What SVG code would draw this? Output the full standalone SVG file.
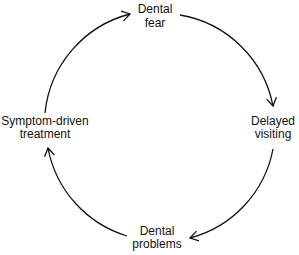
<svg xmlns="http://www.w3.org/2000/svg" width="299" height="255" viewBox="0 0 299 255">
<style>
.t{font-family:"Liberation Sans",Arial,sans-serif;font-size:12px;fill:#111;text-anchor:middle}
.c{fill:none;stroke:#111;stroke-width:1.3}
</style>
<defs>
<marker id="ah" markerWidth="14" markerHeight="14" refX="0" refY="0" viewBox="-10 -7 14 14" orient="auto" markerUnits="userSpaceOnUse">
<path d="M-8,-5 L0,0 L-8,5" fill="none" stroke="#111" stroke-width="1.3"/>
</marker>
</defs>
<rect width="299" height="255" fill="#fff"/>
<g id="connectors">
<path class="c" d="M45,113 A114,114 0 0 1 130,14" marker-end="url(#ah)"/>
<path class="c" d="M180,15 A114,114 0 0 1 273,106" marker-end="url(#ah)"/>
<path class="c" d="M273,149 A114,114 0 0 1 190,238" marker-end="url(#ah)"/>
<path class="c" d="M127,236 A114,114 0 0 1 48,148" marker-end="url(#ah)"/>
</g>
<g id="dental-fear"><text class="t" x="155" y="13">Dental</text><text class="t" x="155" y="27">fear</text></g>
<g id="delayed-visiting"><text class="t" x="273" y="125">Delayed</text><text class="t" x="273" y="138">visiting</text></g>
<g id="dental-problems"><text class="t" x="157" y="235">Dental</text><text class="t" x="157" y="248">problems</text></g>
<g id="symptom-driven-treatment"><text class="t" x="45" y="125">Symptom-driven</text><text class="t" x="45" y="138">treatment</text></g>
</svg>
